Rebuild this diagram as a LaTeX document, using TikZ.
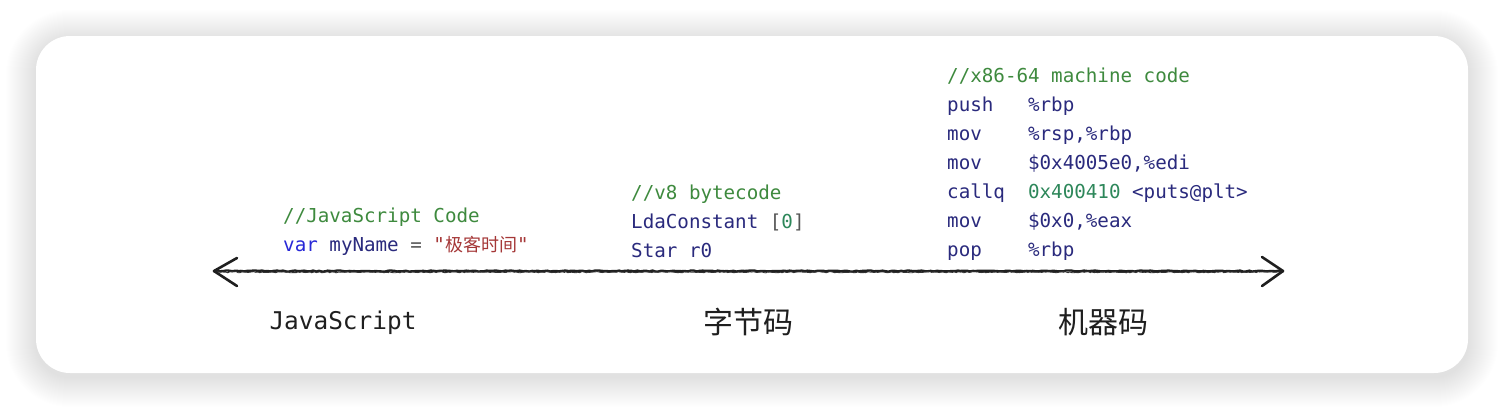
\documentclass[tikz,border=0pt]{standalone}
\usepackage{fontspec}
\setmonofont{DejaVu Sans Mono}
\newfontfamily\cjk{Noto Sans CJK SC}
\usetikzlibrary{decorations.pathmorphing}
\definecolor{cmt}{RGB}{62,138,62}
\definecolor{kw}{RGB}{40,40,215}
\definecolor{idn}{RGB}{42,42,125}
\definecolor{str}{RGB}{165,55,55}
\definecolor{num}{RGB}{45,135,90}
\definecolor{pun}{RGB}{85,85,85}
\tikzset{
  code/.style={anchor=base west, inner sep=0pt, font=\ttfamily\fontsize{19.2}{29}\selectfont, align=left},
  lbl/.style={anchor=base, inner sep=0pt, font=\cjk\fontsize{30}{30}\selectfont, text=black!88},
  card/.style={fill=white, rounded corners=34pt},
  sketch/.style={draw=black!88, line width=2.3pt, line cap=round, decorate, decoration={random steps, segment length=3pt, amplitude=0.5pt}},
  sketchthin/.style={draw=black!80, line width=0.9pt, line cap=round, decorate, decoration={random steps, segment length=2pt, amplitude=0.6pt}},
  barb/.style={draw=black!88, line width=2.6pt, line cap=round, line join=round}
}
\begin{document}
\begin{tikzpicture}[x=1pt,y=-1pt]
\pgfmathsetseed{7}
\useasboundingbox (0,0) rectangle (1504,410);
\fill[white] (0,0) rectangle (1504,410);
% soft shadow
\foreach \i in {1,...,30}{
  \fill[black, opacity=0.0045, rounded corners={34pt+\i pt}]
    (36-\i,36-\i+4) rectangle (1468+\i,373+\i+4);
}
\path[card] (36,36) rectangle (1468,373);

% JavaScript code
\node[code] (js1) at (283,222) {\color{cmt}//JavaScript Code};
\node[code] (js2) at (283,251) {\color{kw}var \color{idn}myName \color{pun}= \color{str}"{\cjk\fontsize{18}{29}\selectfont 极客时间}"};

% bytecode
\node[code] (bc1) at (631,199) {\color{cmt}//v8 bytecode};
\node[code] (bc2) at (631,228) {\color{idn}LdaConstant \color{pun}[\color{num}0\color{pun}]};
\node[code] (bc3) at (631,257) {\color{idn}Star r0};

% machine code
\node[code] (mc1) at (947,82) {\color{cmt}//x86-64 machine code};
\node[code] (mc2) at (947,111) {\color{idn}push~~~\%rbp};
\node[code] (mc3) at (947,140) {\color{idn}mov~~~~\%rsp,\%rbp};
\node[code] (mc4) at (947,169) {\color{idn}mov~~~~\$0x4005e0,\%edi};
\node[code] (mc5) at (947,198) {\color{idn}callq~~\color{num}0x400410 \color{idn}<puts@plt>};
\node[code] (mc6) at (947,227) {\color{idn}mov~~~~\$0x0,\%eax};
\node[code] (mc7) at (947,256) {\color{idn}pop~~~~\%rbp};

% labels
\node[lbl, font=\ttfamily\fontsize{24.4}{24}\selectfont] (ljs) at (343,329) {JavaScript};
\node[lbl] (lbc) at (748,333) {字节码};
\node[lbl] (lmc) at (1103,333) {机器码};

% arrow
\coordinate (tipL) at (214,271);
\coordinate (tipR) at (1283,271);
\path[sketch] (tipL) -- (tipR);
\path[sketchthin] ([yshift=-1.2pt]tipL) -- ([yshift=-1.2pt]tipR);
\draw[barb] ([shift={(23,-13)}]tipL) -- (tipL) -- ([shift={(23,15)}]tipL);
\draw[barb] ([shift={(-21,-14)}]tipR) -- (tipR) -- ([shift={(-21,15)}]tipR);
\end{tikzpicture}
\end{document}
